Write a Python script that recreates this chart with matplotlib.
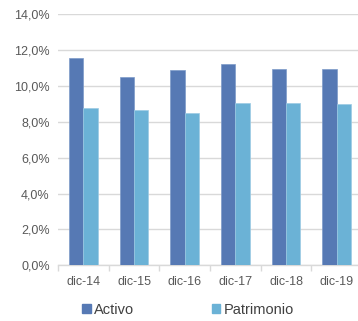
import numpy as np
import matplotlib.pyplot as plt
from matplotlib.patches import Patch

plt.rcParams['font.family'] = ['Liberation Sans', 'DejaVu Sans']

periodos = ["dic-14", "dic-15", "dic-16", "dic-17", "dic-18", "dic-19"]
activo = [11.53, 10.49, 10.88, 11.20, 10.92, 10.94]
patrimonio = [8.75, 8.67, 8.47, 9.04, 9.04, 8.97]

c_act = "#5679B4"
c_pat = "#6BB2D6"

fig = plt.figure(figsize=(3.58, 3.21), dpi=100)
ax = fig.add_axes([58/358, 1-265.3/321, 304/358, (265.3-14)/321])

x = np.arange(len(periodos))
w = 0.285
ax.bar(x - w/2, activo, w, color=c_act, edgecolor="#7d9ac8", linewidth=0.5, zorder=3)
ax.bar(x + w/2, patrimonio, w, color=c_pat, edgecolor="#9ccbe4", linewidth=0.5, zorder=3)

ax.set_ylim(0, 14)
ax.set_xlim(-0.5, len(periodos) - 0.5)
ax.set_yticks(np.arange(0, 15, 2))
ax.set_yticklabels([f"{v:.1f}%".replace(".", ",") for v in np.arange(0, 15, 2)])
ax.yaxis.grid(True, color="#d9d9d9", linewidth=1, zorder=0)
ax.tick_params(axis="y", length=0, pad=6, labelsize=9, labelcolor="#595959")

ax.set_xticks(x)
ax.set_xticklabels(periodos)
ax.set_xticks(np.arange(-0.5, len(periodos)), minor=True)
ax.tick_params(axis="x", which="major", length=0, pad=8, labelsize=9, labelcolor="#595959")
ax.tick_params(axis="x", which="minor", length=4, color="#d9d9d9", width=1)

for s in ["top", "right", "left"]:
    ax.spines[s].set_visible(False)
ax.spines["bottom"].set_color("#d9d9d9")
ax.spines["bottom"].set_linewidth(1)

handles = [Patch(color=c_act, label="Activo"), Patch(color=c_pat, label="Patrimonio")]
fig.legend(handles=handles, loc="center", bbox_to_anchor=(188/358, 1-310/321), ncol=2,
           frameon=False, fontsize=10.5, handlelength=0.6, handleheight=0.6,
           handletextpad=0.25, columnspacing=5.3, labelcolor="#404040")

fig.savefig("out.png", dpi=100)
